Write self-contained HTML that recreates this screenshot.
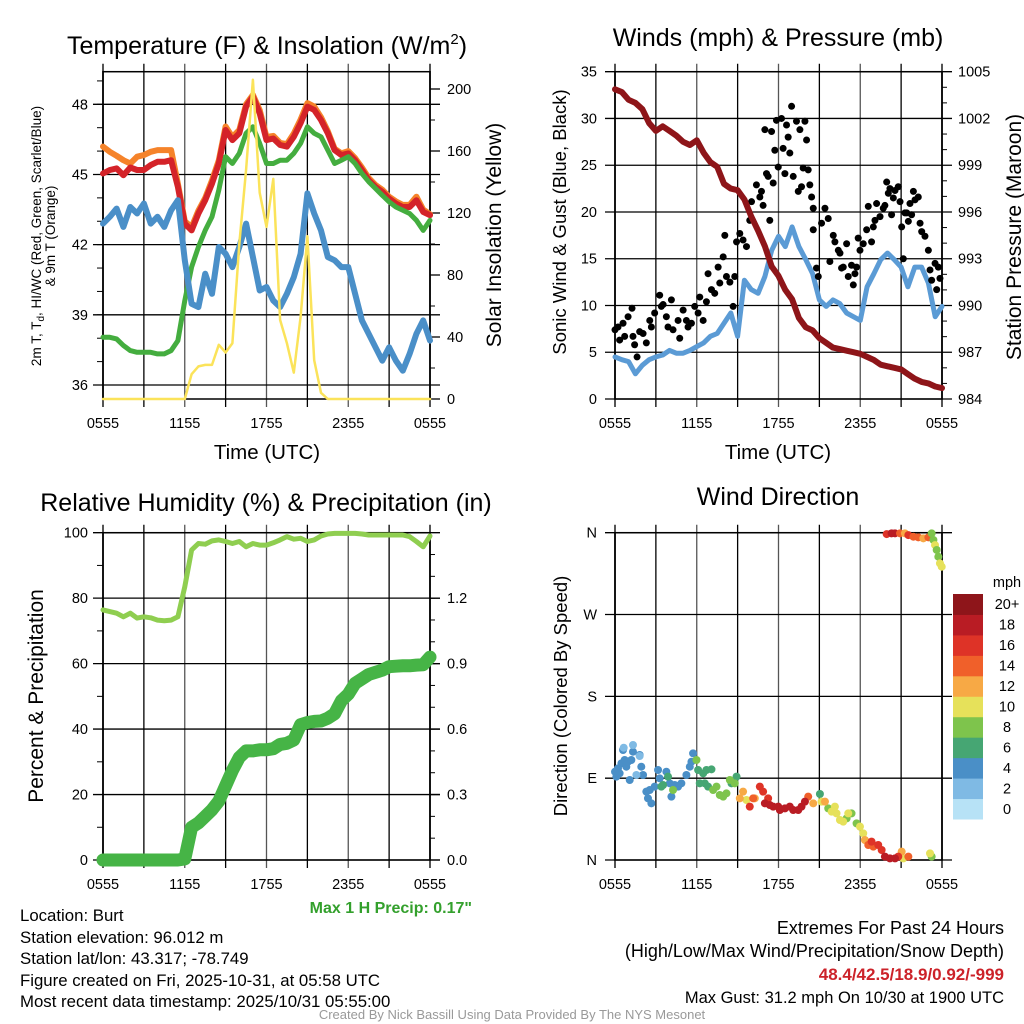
<!DOCTYPE html>
<html><head><meta charset="utf-8"><style>
html,body{margin:0;padding:0;background:#fff;}
svg{display:block;font-family:"Liberation Sans",Arial,sans-serif;}
</style></head><body>
<svg id="fig" width="1024" height="1024" viewBox="0 0 1024 1024" xmlns="http://www.w3.org/2000/svg">
<rect width="1024" height="1024" fill="#fff"/>
<g id="p1"></g>
<g id="p2"></g>
<g id="p3"></g>
<g id="p4"></g>
<g id="info" font-size="16.8" fill="#000">
<text x="20" y="921">Location: Burt</text>
<text x="20" y="943">Station elevation: 96.012 m</text>
<text x="20" y="964">Station lat/lon: 43.317; -78.749</text>
<text x="20" y="986">Figure created on Fri, 2025-10-31, at 05:58 UTC</text>
<text x="20" y="1007">Most recent data timestamp: 2025/10/31 05:55:00</text>
</g>
<g id="extremes" font-size="18" text-anchor="end">
<text x="1004" y="934">Extremes For Past 24 Hours</text>
<text x="1004" y="957">(High/Low/Max Wind/Precipitation/Snow Depth)</text>
<text x="1004" y="980" fill="#cc2229" font-weight="bold" font-size="17">48.4/42.5/18.9/0.92/-999</text>
<text x="1004" y="1003" font-size="16.5">Max Gust: 31.2 mph On 10/30 at 1900 UTC</text>
</g>
<text x="472" y="913" text-anchor="end" font-size="16" font-weight="bold" fill="#33a02c">Max 1 H Precip: 0.17"</text>
<text x="512" y="1019" text-anchor="middle" font-size="13" fill="#999">Created By Nick Bassill Using Data Provided By The NYS Mesonet</text>
</svg>
<script>
// ---- Panel 1 data (30-min steps, 0555 -> 0555) ----
const temp2m = [45.04,45.19,45.26,44.97,45.30,45.19,45.19,45.40,45.54,45.54,45.61,44.47,42.90,42.61,43.33,43.90,44.61,45.47,46.90,46.47,46.76,47.90,48.33,47.61,46.47,46.54,46.26,46.19,46.61,47.19,47.90,47.76,47.33,46.76,46.04,45.83,45.90,45.61,45.19,44.76,44.47,44.26,43.97,43.76,43.61,43.61,43.90,43.40,43.26];
const temp9m = [46.19,45.97,45.80,45.61,45.47,45.76,45.83,45.97,46.04,46.04,46.04,44.60,43.00,42.75,43.45,44.00,44.75,45.60,47.05,46.60,46.90,48.00,48.40,47.75,46.60,46.65,46.35,46.30,46.75,47.35,48.05,47.90,47.45,46.85,46.10,45.90,46.00,45.70,45.30,44.85,44.55,44.35,44.05,43.85,43.70,43.70,44.05,43.50,43.30];
const heatIndex = [38.04,38.04,37.97,37.69,37.47,37.40,37.40,37.40,37.33,37.33,37.47,37.90,39.61,41.04,41.90,42.61,43.19,44.33,45.76,45.47,45.90,46.76,47.04,46.33,45.47,45.47,45.61,45.61,45.90,46.33,47.04,46.76,46.61,46.04,45.47,45.61,45.76,45.47,45.04,44.69,44.40,44.11,43.83,43.61,43.47,43.33,43.04,42.61,43.04];
const dewpoint = [42.90,43.19,43.54,42.76,43.61,43.33,43.76,42.90,43.19,42.76,43.47,43.90,41.33,39.47,39.33,40.76,39.90,41.90,41.61,41.04,41.90,42.90,41.47,40.04,40.19,39.61,39.33,39.90,40.61,41.61,44.19,43.33,42.61,41.47,41.33,41.04,41.04,39.90,38.76,38.19,37.61,37.04,37.61,37.04,36.61,37.33,38.19,38.76,37.90];
const solar = [0,0,0,0,0,0,0,0,0,0,0,0,0,16,21,22,22,35,30,36,100,148,206,133,111,142,51,36,17,53,105,25,4,0,0,0,0,0,0,0,0,0,0,0,0,0,0,0,0];
const tempTicks = [36,39,42,45,48];
const solarTicks = [0,40,80,120,160,200];
const timeLabels = ["0555","1155","1755","2355","0555"];
// ---- Panel 2 data ----
const windSpeed = [4.5,4.2,4.0,2.7,3.6,4.2,4.5,4.7,5.2,4.9,4.9,5.2,5.6,6.0,6.7,7.0,8.1,9.2,6.7,12.7,11.7,11.3,13.1,15.9,17.4,16.3,18.4,16.3,14.9,13.4,10.6,9.9,10.6,10.2,9.2,8.8,8.4,12.0,13.4,14.9,15.6,14.9,14.1,12.0,14.1,14.1,12.4,8.8,9.9];
const pressure = [1003.87,1003.7,1003.2,1003.0,1002.6,1001.7,1001.2,1001.5,1001.2,1000.9,1000.5,1000.3,1000.6,999.8,999.2,998.9,997.8,997.5,997.4,996.8,995.7,994.8,993.8,992.5,991.9,991.0,990.4,989.2,988.6,988.4,987.9,987.6,987.3,987.2,987.1,987.0,986.9,986.7,986.5,986.2,986.1,986.0,985.9,985.6,985.3,985.1,985.0,984.8,984.7];
const gustHours = [0,0.22,0.59,0.34,0.71,0.96,1.25,1.32,1.44,1.62,1.81,2.06,2.30,2.55,2.67,2.91,3.28,3.40,3.53,3.77,3.89,4.14,4.26,4.63,4.75,5.00,5.24,5.36,5.61,5.85,6.10,6.22,6.47,6.71,6.83,7.08,7.32,7.57,7.69,7.94,8.06,8.18,8.43,8.67,8.79,8.92,9.16,9.40,9.65,9.89,10.02,10.38,10.63,10.75,10.87,11.12,11.24,11.00,11.36,11.49,11.61,11.73,11.85,11.98,12.22,12.34,12.47,12.59,12.71,12.83,12.96,13.08,13.32,13.45,13.57,13.69,13.81,13.94,14.06,14.18,14.30,14.43,14.55,14.55,14.79,14.92,15.16,15.41,15.65,15.77,16.02,16.14,16.39,16.51,16.63,16.75,17.00,17.12,17.36,17.49,17.61,17.73,17.85,17.98,18.22,18.47,18.59,18.83,18.96,19.08,19.20,19.45,19.69,19.81,19.94,20.06,20.18,20.30,20.43,20.55,20.79,20.92,21.04,21.16,21.28,21.41,21.53,21.65,21.77,21.90,22.02,22.26,22.39,22.51,22.75,23.00,23.12,23.24,23.49,23.61,23.73,23.85];
const gustMph = [7.4,7.7,8.1,6.3,6.7,8.8,9.7,6.7,5.8,4.5,7.2,7.0,6.0,8.4,7.7,9.2,11.1,9.9,10.1,8.8,7.7,10.6,7.4,8.4,6.5,9.5,8.4,7.7,8.1,9.9,9.2,10.9,8.4,10.4,13.4,11.7,11.3,14.1,12.4,15.2,17.5,13.1,12.5,9.9,13.1,16.8,17.7,17.0,16.3,19.1,21.1,22.9,21.6,22.2,20.7,24.1,23.8,28.8,19.1,28.6,23.1,26.6,29.8,24.8,30.0,26.8,24.1,29.3,28.0,26.3,31.3,23.8,29.7,22.2,28.8,22.7,24.7,29.7,27.7,24.5,22.9,21.6,20.4,18.1,14.0,13.1,18.8,20.4,19.3,14.7,17.5,16.8,15.9,15.6,14.0,14.1,16.6,13.1,14.3,12.2,13.4,14.1,17.2,15.9,16.6,18.1,20.6,16.8,18.4,19.1,20.9,19.5,20.4,20.7,23.2,22.0,22.5,19.7,21.5,22.3,22.7,21.1,18.4,15.0,19.9,19.9,19.0,20.9,19.7,22.2,21.3,21.6,18.8,17.9,17.4,15.9,13.8,12.7,14.5,11.7,14.1,12.9];
const windTicks = [0,5,10,15,20,25,30,35];
const presTicks = [984,987,990,993,996,999,1002,1005];
// ---- Panel 3 data ----
const relHum = [76.4,75.9,75.4,74.3,75.4,73.9,74.3,74.0,73.3,73.1,73.3,74.3,83.5,94.7,96.7,96.5,97.5,97.8,97.3,96.7,97.3,95.7,96.7,96.2,96.2,96.9,97.8,98.8,98.0,98.3,97.3,97.8,99.0,99.6,99.8,99.8,99.8,99.8,99.6,99.3,99.3,99.3,99.3,99.3,99.3,98.8,97.3,95.7,99.0];
const precip = [0,0,0,0,0,0,0,0,0,0,0,0,0.005,0.15,0.17,0.20,0.23,0.27,0.34,0.41,0.47,0.50,0.50,0.505,0.505,0.51,0.53,0.535,0.55,0.62,0.63,0.635,0.637,0.65,0.67,0.73,0.76,0.81,0.83,0.85,0.86,0.87,0.886,0.888,0.89,0.89,0.893,0.895,0.93];
const pctTicks = [0,20,40,60,80,100];
const precipTicks = ["0.0","0.3","0.6","0.9","1.2"];
// ---- Panel 4 data ----
const dirHours = [0,0.22,0.47,0.71,0.34,0.10,0.59,0.83,0.96,1.20,1.08,1.32,1.81,1.93,2.06,2.30,2.42,2.55,2.67,2.91,3.16,3.28,3.77,4.02,4.14,4.38,4.63,4.87,5.24,5.49,5.61,5.73,
 0.64,1.32,1.81,1.57,
 3.53,3.89,3.40,6.10,6.47,6.71,7.08,6.22,6.59,6.83,8.55,8.92,15.04,
 4.26,5.98,7.20,7.45,7.69,7.94,8.18,8.43,8.79,15.65,17.0,17.36,17.73,23.24,
 15.16,15.9,16.14,16.26,16.51,16.75,17.12,17.98,18.22,21.16,23.12,9.65,
 9.16,9.40,10.26,15.41,14.55,18.34,21.04,
 10.14,14.18,18.59,18.96,21.53,
 9.89,10.63,10.87,11.24,18.83,19.32,19.57,20.79,
 11.0,11.36,11.61,11.98,12.10,12.47,12.83,13.08,13.45,13.69,13.94,19.81,20.18,20.55,
 19.94,20.30,20.55,20.92,21.28,21.53,21.9,22.26,22.63,23.0,23.24,23.37,23.49,23.61,23.73,23.85,23.98];
const dirDeg = [97.1,100.8,106.3,110.0,95.3,91.7,121.0,102.6,108.1,110.0,88.0,119.1,115.5,102.6,93.5,75.2,67.8,77.0,62.3,80.7,99.0,89.8,97.1,84.3,69.7,82.5,80.7,84.3,93.5,102.6,108.1,117.3,
 123.5,126.5,114.4,93.5,
 82.5,91.7,80.7,99.0,95.3,99.0,99.7,84.3,84.3,80.7,84.3,91.7,72.6,
 77.0,110.0,77.0,80.7,71.5,69.7,73.3,88.0,84.3,56.8,45.8,51.3,40.3,3.7,
 64.2,53.2,58.7,51.3,44.0,42.2,51.3,36.7,29.3,1.8,7.3,66.0,
 67.8,75.2,67.8,64.2,62.3,22.0,9.2,
 67.8,69.7,16.5,14.7,3.7,
 58.7,80.7,75.2,67.8,20.2,16.5,11.0,3.7,
 62.3,60.5,58.7,58.7,55.0,56.8,58.7,55.0,55.0,58.7,64.2,3.7,1.8,1.8,
 358.5,359.3,359.3,359.3,359.3,357.4,355.6,354.9,353.8,354.9,359.3,352,346.4,341,333.6,326.3,322.6];
const dirSpeed = [4.5,4.5,4.5,4.5,4.5,4.5,4.5,4.5,4.5,4.5,4.5,4.5,4.5,4.5,4.5,4.5,4.5,4.5,4.5,4.5,4.5,4.5,4.5,4.5,4.5,4.5,4.5,4.5,4.5,4.5,4.5,4.5,
 2.5,2.5,2.5,2.5,
 6.5,6.5,6.5,6.5,6.5,6.5,6.5,6.5,6.5,6.5,6.5,6.5,6.5,
 8.5,8.5,8.5,8.5,8.5,8.5,8.5,8.5,8.5,8.5,8.5,8.5,8.5,8.5,
 10.5,10.5,10.5,10.5,10.5,10.5,10.5,10.5,10.5,10.5,10.5,10.5,
 12.5,12.5,12.5,12.5,12.5,12.5,12.5,
 14.5,14.5,14.5,14.5,14.5,
 16.5,16.5,16.5,16.5,16.5,16.5,16.5,16.5,
 18.5,18.5,18.5,18.5,18.5,18.5,18.5,18.5,18.5,18.5,18.5,18.5,18.5,18.5,
 16.5,18.5,18.5,14.5,12.5,16.5,14.5,14.5,12.5,14.5,8.5,8.5,10.5,8.5,8.5,10.5,10.5];
const dirTicks = ["N","E","S","W","N"];
const speedLabels = ["0","2","4","6","8","10","12","14","16","18","20+"];
const speedColors = ["#b7e2f6","#7fbae4","#4a8fc7","#46a673","#7ec44c","#e6e15a","#f7a945","#f0602a","#de3327","#b91c24","#8e151a"];

const NS = "http://www.w3.org/2000/svg";
function mk(parent, tag, attrs, txt){
  const e = document.createElementNS(NS, tag);
  for (const k in attrs) e.setAttribute(k, attrs[k]);
  if (txt !== undefined) e.textContent = txt;
  parent.appendChild(e);
  return e;
}
function lin(d0,d1,r0,r1){ return v => r0 + (v-d0)/(d1-d0)*(r1-r0); }

function frame(g, x0, x1, y0, y1, name){
  for (let k=0;k<=8;k++){
    const x = x0 + k*(x1-x0)/8;
    const l = mk(g,'line',{x1:x,x2:x,y1:y0-8,y2:y1+8,stroke:(k%2? '#000':'#555'),'stroke-width':(k===0||k===8)?2:1.3});
    
    
  }
  const r = mk(g,'rect',{x:x0,y:y0,width:x1-x0,height:y1-y0,fill:'none',stroke:'#000','stroke-width':1.5});
  
  
}
function hline(g,x0,x1,y,name,col){
  const l = mk(g,'line',{x1:x0-10,x2:x1+10,y1:y,y2:y,stroke:col||'#000','stroke-width':1.3});
  
  
}
function xLabels(g,x0,x1,y,name){
  timeLabels.forEach((t,k)=>{
    const e = mk(g,'text',{x:x0+k*(x1-x0)/4,y:y,'text-anchor':'middle','font-size':14.5},t);
    
    
  });
}
function poly(g, xs, ys, color, w, name){
  let d = '';
  for (let i=0;i<xs.length;i++) d += (i?'L':'M')+xs[i].toFixed(1)+' '+ys[i].toFixed(1);
  const p = mk(g,'path',{d:d,fill:'none',stroke:color,'stroke-width':w,'stroke-linejoin':'round','stroke-linecap':'round'});
  
  
}
function text(g,x,y,s,attrs,name){
  const e = mk(g,'text',Object.assign({x:x,y:y},attrs),s);
  
  
  return e;
}

// ================= Panel 1 =================
(function(){
  const g = document.getElementById('p1');
  const x0=103,x1=430,y0=71.7,y1=399;
  const X = lin(0,24,x0,x1);
  const YT = lin(48,36,104.3,385);
  const YS = lin(0,200,y1,89);
  frame(g,x0,x1,y0,y1,'temp');
  tempTicks.forEach(t=>{ hline(g,x0,x1,YT(t),'temp-hgrid');
    text(g,88,YT(t)+5,String(t),{'text-anchor':'end','font-size':14.5},'temp-y-tick-label'); });
  for (let t=36;t<=49;t++){ const l=mk(g,'line',{x1:x0-6,x2:x0,y1:YT(t),y2:YT(t),stroke:'#000'});
      }
  solarTicks.forEach(s=>{ const l=mk(g,'line',{x1:x1,x2:x1+10,y1:YS(s),y2:YS(s),stroke:'#000','stroke-width':1.3});
     
    text(g,447,YS(s)+5,String(s),{'font-size':14.5},'solar-y-tick-label'); });
  for (let s=20;s<=200;s+=40){ const l=mk(g,'line',{x1:x1,x2:x1+5,y1:YS(s),y2:YS(s),stroke:'#000'});
      }
  const xs = temp2m.map((v,i)=>X(i*0.5));
  poly(g,xs,temp9m.map(YT),'#f5832a',6,'temp-9m-line');
  poly(g,xs,temp2m.map(YT),'#d42329',6,'temp-2m-line');
  poly(g,xs,heatIndex.map(YT),'#44ad3f',5,'heat-index-line');
  poly(g,xs,dewpoint.map(YT),'#4a8fc8',6,'dewpoint-line');
  poly(g,xs,solar.map(YS),'#fbe35a',2.5,'solar-line');
  xLabels(g,x0,x1,428,'temp');
  const t = text(g,267,54,'',{'text-anchor':'middle','font-size':25},'temp-title');
  t.innerHTML = 'Temperature (F) &amp; Insolation (W/m<tspan dy="-10" font-size="15">2</tspan><tspan dy="10">)</tspan>';
  text(g,267,459,'Time (UTC)',{'text-anchor':'middle','font-size':20.5},'temp-x-axis-title');
  const yl = text(g,0,0,'',{'text-anchor':'middle','font-size':13.5,transform:'translate(41,236) rotate(-90)'},'temp-y-axis-title');
  yl.innerHTML = '2m T, T<tspan dy="3" font-size="10">d</tspan><tspan dy="-3">, HI/WC (Red, Green, Scarlet/Blue)</tspan>';
  text(g,0,0,'& 9m T (Orange)',{'text-anchor':'middle','font-size':13.5,transform:'translate(55,236) rotate(-90)'},'temp-y-axis-title-2');
  text(g,0,0,'Solar Insolation (Yellow)',{'text-anchor':'middle','font-size':21,transform:'translate(501,235) rotate(-90)'},'solar-y-axis-title');
})();

// ================= Panel 2 =================
(function(){
  const g = document.getElementById('p2');
  const x0=615,x1=942,y0=71.7,y1=399;
  const X = lin(0,24,x0,x1);
  const YW = lin(0,35,y1,y0);
  const YP = lin(984,1005,y1,y0);
  frame(g,x0,x1,y0,y1,'wind');
  windTicks.forEach(t=>{ hline(g,x0,x1,YW(t),'wind-hgrid');
    text(g,597,YW(t)+5,String(t),{'text-anchor':'end','font-size':14.5},'wind-y-tick-label'); });
  presTicks.forEach(p=>{ text(g,958,YP(p)+5,String(p),{'font-size':14.5},'pressure-y-tick-label'); });
  for (let p=985;p<1005;p++){ if ((p-984)%3===0) continue; const l=mk(g,'line',{x1:x1,x2:x1+5,y1:YP(p),y2:YP(p),stroke:'#000'});
      }
  const xs = windSpeed.map((v,i)=>X(i*0.5));
  poly(g,xs,windSpeed.map(YW),'#5b9bd5',5,'sonic-wind-line');
  gustHours.forEach((h,i)=>{
    const c = mk(g,'circle',{cx:X(h),cy:YW(gustMph[i]),r:3.5,fill:'#000'});
    
    
  });
  poly(g,xs,pressure.map(YP),'#8e1519',6,'pressure-line');
  xLabels(g,x0,x1,428,'wind');
  text(g,778,46,'Winds (mph) & Pressure (mb)',{'text-anchor':'middle','font-size':25},'wind-title');
  text(g,778,459,'Time (UTC)',{'text-anchor':'middle','font-size':20.5},'wind-x-axis-title');
  text(g,0,0,'Sonic Wind & Gust (Blue, Black)',{'text-anchor':'middle','font-size':18.5,transform:'translate(566,222) rotate(-90)'},'wind-y-axis-title');
  text(g,0,0,'Station Pressure (Maroon)',{'text-anchor':'middle','font-size':21,transform:'translate(1021,237) rotate(-90)'},'pressure-y-axis-title');
})();

// ================= Panel 3 =================
(function(){
  const g = document.getElementById('p3');
  const x0=103,x1=430,y0=532.7,y1=860;
  const X = lin(0,24,x0,x1);
  const Y = lin(0,100,y1,y0);
  const YP = lin(0,1.5,y1,y0);
  frame(g,x0,x1,y0,y1,'rh');
  pctTicks.forEach(t=>{ hline(g,x0,x1,Y(t),'rh-hgrid');
    text(g,88,Y(t)+5,String(t),{'text-anchor':'end','font-size':14.5},'rh-y-tick-label'); });
  for (let t=10;t<100;t+=20){ const l=mk(g,'line',{x1:x0-6,x2:x0,y1:Y(t),y2:Y(t),stroke:'#000'});
      }
  precipTicks.forEach(s=>{ const v=parseFloat(s); const l=mk(g,'line',{x1:x1,x2:x1+10,y1:YP(v),y2:YP(v),stroke:'#000','stroke-width':1.3});
     
    text(g,447,YP(v)+5,s,{'font-size':14.5},'precip-y-tick-label'); });
  for (let v=0.1;v<1.5;v+=0.1){ const l=mk(g,'line',{x1:x1,x2:x1+5,y1:YP(v),y2:YP(v),stroke:'#000'});
      }
  const xs = relHum.map((v,i)=>X(i*0.5));
  poly(g,xs,relHum.map(Y),'#8fce50',5,'relative-humidity-line');
  poly(g,xs,precip.map(YP),'#46b446',13,'precipitation-line');
  xLabels(g,x0,x1,889,'rh');
  text(g,266,511,'Relative Humidity (%) & Precipitation (in)',{'text-anchor':'middle','font-size':25},'rh-title');
  text(g,0,0,'Percent & Precipitation',{'text-anchor':'middle','font-size':21,transform:'translate(43,696) rotate(-90)'},'rh-y-axis-title');
})();

// ================= Panel 4 =================
(function(){
  const g = document.getElementById('p4');
  const x0=615,x1=942,y0=532.7,y1=860;
  const X = lin(0,24,x0,x1);
  const Y = lin(0,360,y1,y0);
  frame(g,x0,x1,y0,y1,'dir');
  dirTicks.forEach((t,k)=>{ const y=Y(k*90); hline(g,x0,x1,y,'dir-hgrid');
    text(g,597,y+5,t,{'text-anchor':'end','font-size':14.5},'dir-y-tick-label'); });
  dirHours.forEach((h,i)=>{
    const bin = Math.min(10, Math.floor(dirSpeed[i]/2));
    const c = mk(g,'circle',{cx:X(h),cy:Y(dirDeg[i]),r:4,fill:speedColors[bin]});
    
    
  });
  xLabels(g,x0,x1,889,'dir');
  text(g,778,505,'Wind Direction',{'text-anchor':'middle','font-size':25},'dir-title');
  text(g,0,0,'Direction (Colored By Speed)',{'text-anchor':'middle','font-size':18.5,transform:'translate(567,696) rotate(-90)'},'dir-y-axis-title');
  const cb = mk(g,'g',{});
  
  
  const bh = (819-594)/11;
  speedLabels.forEach((s,k)=>{
    const yy = 819 - (k+1)*bh;
    const r = mk(cb,'rect',{x:953,y:yy,width:30,height:bh+0.5,fill:speedColors[k]});
    
    
    text(cb,1007,yy+bh/2+5,s,{'text-anchor':'middle','font-size':14.5},'colorbar-label');
  });
  text(cb,1007,587,'mph',{'text-anchor':'middle','font-size':14.5},'colorbar-title');
})();
</script>
</body></html>
